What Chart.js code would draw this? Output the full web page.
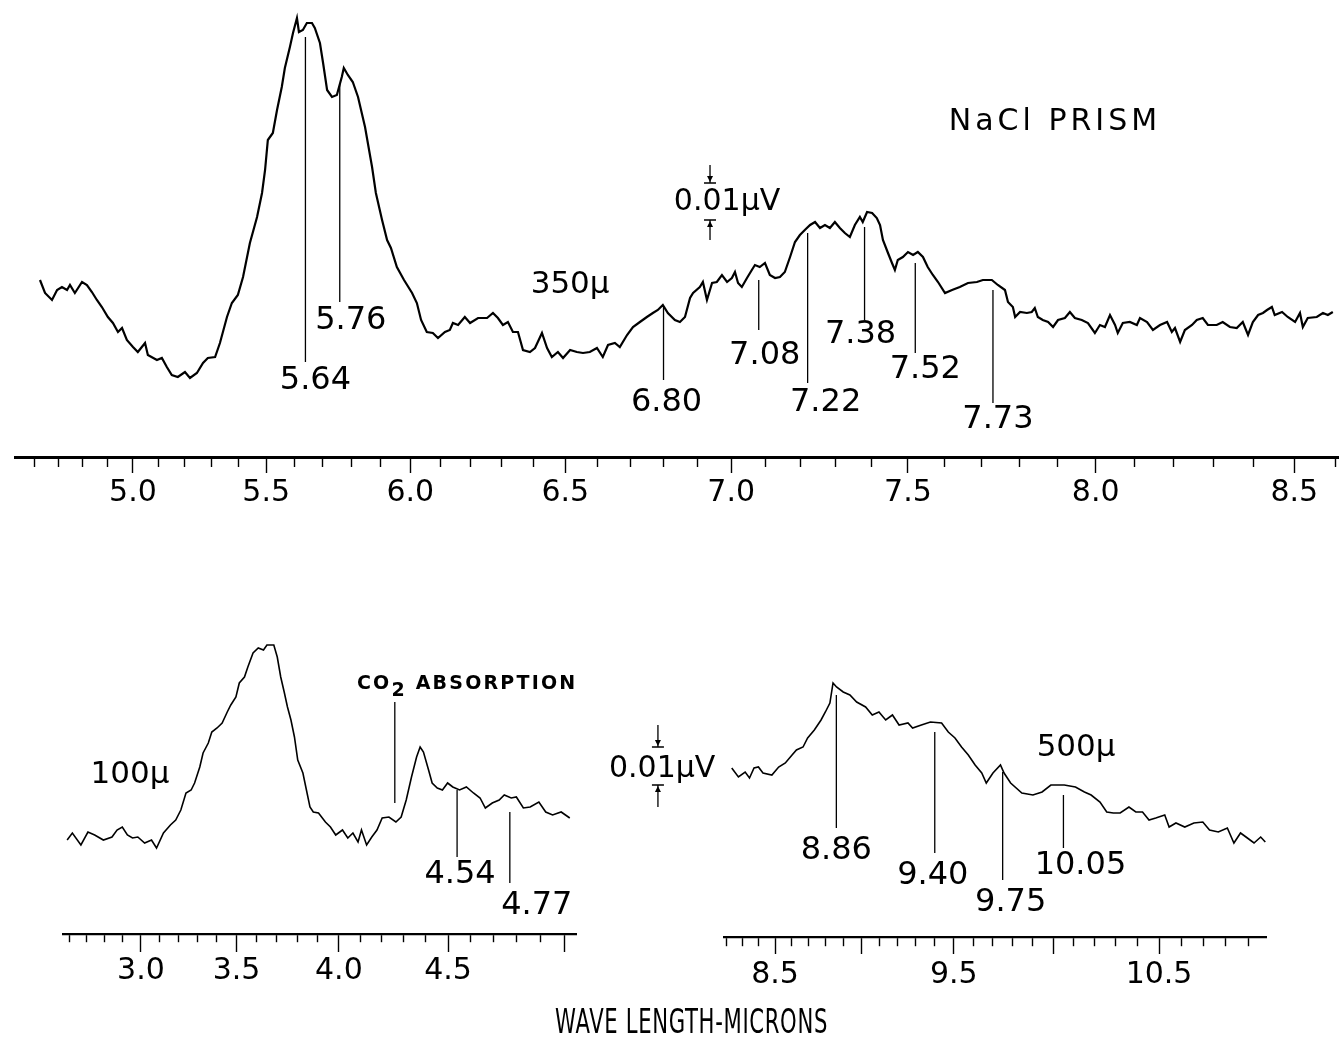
<!DOCTYPE html>
<html>
<head>
<meta charset="utf-8">
<script src="https://cdn.jsdelivr.net/npm/chart.js@4.4.0/dist/chart.umd.js"></script>
<style>
  html, body { margin: 0; padding: 0; background: #fff; }
  body { width: 1339px; height: 1057px; position: relative; overflow: hidden; font-family: 'DejaVu Sans', sans-serif; }
  canvas { position: absolute; }
  #top { left: 0; top: 0; }
  #left { left: 0; top: 560px; }
  #right { left: 600px; top: 560px; }
  #xtitle { position: absolute; top: 1003px; left: 555px; white-space: nowrap; font-size: 33px; line-height: 38px; letter-spacing: 1px; color: #000; transform-origin: 0 0; }
</style>
</head>
<body>
<canvas id="top" width="1339" height="530"></canvas>
<canvas id="left" width="620" height="450"></canvas>
<canvas id="right" width="739" height="450"></canvas>
<div id="xtitle">WAVE LENGTH-MICRONS</div>
<script>
// ---- NaCl prism, 350 micron slit (wavelength in microns, deflection in chart units)
const topWave = [4.624,4.645,4.674,4.695,4.715,4.736,4.748,4.768,4.797,4.817,
  4.837,4.857,4.877,4.901,4.921,4.941,4.957,4.976,5.000,5.019,
  5.047,5.058,5.093,5.112,5.131,5.150,5.173,5.200,5.219,5.245,
  5.268,5.286,5.313,5.331,5.357,5.375,5.397,5.416,5.441,5.467,
  5.485,5.496,5.506,5.524,5.539,5.556,5.567,5.585,5.596,5.610,
  5.617,5.631,5.645,5.663,5.673,5.691,5.702,5.716,5.733,5.750,
  5.767,5.774,5.788,5.805,5.823,5.847,5.871,5.884,5.905,5.922,
  5.935,5.955,5.979,6.006,6.022,6.036,6.055,6.075,6.092,6.115,
  6.131,6.141,6.158,6.180,6.197,6.223,6.252,6.271,6.287,6.303,
  6.319,6.335,6.351,6.367,6.389,6.405,6.427,6.443,6.458,6.477,
  6.493,6.515,6.536,6.555,6.576,6.598,6.616,6.632,6.653,6.668,
  6.690,6.708,6.729,6.750,6.768,6.783,6.798,6.813,6.834,6.849,
  6.864,6.879,6.888,6.908,6.917,6.929,6.944,6.958,6.973,6.988,
  7.002,7.011,7.020,7.031,7.046,7.060,7.069,7.083,7.098,7.112,
  7.127,7.141,7.155,7.170,7.184,7.198,7.212,7.227,7.241,7.255,
  7.269,7.283,7.297,7.311,7.325,7.339,7.353,7.367,7.375,7.387,
  7.401,7.414,7.423,7.431,7.445,7.456,7.464,7.472,7.486,7.500,
  7.514,7.527,7.541,7.554,7.568,7.582,7.601,7.620,7.641,7.663,
  7.687,7.703,7.727,7.743,7.762,7.770,7.783,7.789,7.802,7.820,
  7.833,7.841,7.849,7.862,7.876,7.889,7.902,7.920,7.933,7.946,
  7.964,7.980,7.998,8.011,8.024,8.037,8.050,8.057,8.070,8.088,
  8.106,8.114,8.132,8.147,8.165,8.183,8.195,8.203,8.216,8.228,
  8.246,8.258,8.273,8.286,8.308,8.323,8.341,8.358,8.373,8.386,
  8.398,8.411,8.423,8.433,8.445,8.452,8.470,8.484,8.502,8.514,
  8.521,8.533,8.555,8.570,8.582,8.594];
const topSignal = [17.7,16.4,15.7,16.7,17.0,16.7,17.2,16.4,17.5,17.2,
  16.5,15.7,15.0,14.0,13.4,12.5,12.9,11.7,11.0,10.5,
  11.4,10.2,9.7,9.9,9.0,8.2,8.0,8.5,7.9,8.4,
  9.4,9.9,10.0,11.4,14.0,15.4,16.2,18.0,21.4,24.0,
  26.4,28.7,31.7,32.4,34.7,37.0,38.9,41.0,42.4,43.9,
  42.5,42.7,43.4,43.4,42.9,41.4,39.4,36.7,36.0,36.2,
  38.0,38.9,38.2,37.5,36.0,33.0,29.0,26.4,23.7,21.7,
  20.9,19.0,17.7,16.4,15.4,13.7,12.5,12.4,11.9,12.5,
  12.7,13.4,13.2,14.0,13.4,13.9,13.9,14.4,13.9,13.2,
  13.5,12.5,12.5,10.7,10.5,10.9,12.4,10.9,10.0,10.5,
  9.9,10.7,10.5,10.4,10.5,10.9,10.0,11.2,11.4,11.0,
  12.2,13.0,13.5,14.0,14.4,14.7,15.2,14.4,13.7,13.5,
  14.0,15.9,16.4,17.0,17.5,15.7,17.4,17.5,18.2,17.5,
  17.9,18.5,17.4,17.0,17.9,18.7,19.2,19.0,19.4,18.2,
  17.9,18.0,18.5,20.0,21.5,22.2,22.7,23.2,23.5,22.9,
  23.2,22.9,23.5,22.9,22.4,22.0,23.2,24.0,23.5,24.5,
  24.4,23.9,23.2,21.7,20.4,19.4,18.7,19.7,20.0,20.5,
  20.2,20.5,20.0,19.0,18.2,17.5,16.4,16.7,17.0,17.4,
  17.5,17.7,17.7,17.2,16.7,15.5,15.0,14.0,14.5,14.4,
  14.5,14.9,14.0,13.7,13.5,13.0,13.7,13.9,14.5,13.9,
  13.7,13.4,12.4,13.2,13.0,14.2,13.2,12.4,13.4,13.5,
  13.2,13.9,13.5,12.7,13.2,13.5,12.5,12.9,11.5,12.7,
  13.2,13.7,13.9,13.2,13.2,13.5,13.0,12.9,13.5,12.2,
  13.5,14.2,14.4,14.7,15.0,14.2,14.5,14.0,13.5,14.4,
  13.0,13.9,14.0,14.4,14.2,14.5];
const topTicks = ['5.0', '5.5', '6.0', '6.5', '7.0', '7.5', '8.0', '8.5'];
const topPeaks = [5.64, 5.76, 6.80, 7.08, 7.22, 7.38, 7.52, 7.73];

// ---- 100 micron slit
const leftWave = [2.587,2.617,2.666,2.706,2.744,2.793,2.841,2.869,2.898,2.926,
  2.954,2.983,3.020,3.057,3.084,3.121,3.158,3.186,3.213,3.240,
  3.267,3.285,3.312,3.329,3.356,3.374,3.401,3.427,3.453,3.471,
  3.497,3.514,3.540,3.557,3.583,3.609,3.635,3.652,3.686,3.703,
  3.720,3.737,3.753,3.770,3.787,3.803,3.828,3.845,3.862,3.878,
  3.903,3.936,3.960,3.985,4.017,4.042,4.066,4.090,4.106,4.130,
  4.154,4.178,4.202,4.233,4.265,4.289,4.312,4.336,4.359,4.375,
  4.390,4.413,4.429,4.452,4.475,4.498,4.521,4.551,4.581,4.612,
  4.641,4.664,4.694,4.724,4.746,4.776,4.798,4.828,4.857,4.894,
  4.923,4.952,4.988,5.024];
const leftSignal = [9.4,10.1,8.9,10.2,9.9,9.4,9.7,10.4,10.7,9.9,
  9.6,9.7,9.1,9.4,8.6,10.1,10.9,11.4,12.4,14.1,
  14.4,15.1,16.7,18.1,19.1,20.2,20.6,21.1,22.2,22.9,
  23.7,25.1,25.7,26.7,28.1,28.6,28.4,28.9,28.9,27.7,
  25.7,24.2,22.7,21.4,19.7,17.4,16.1,14.4,12.7,12.2,
  12.1,11.2,10.7,9.9,10.4,9.6,10.1,9.2,10.4,8.9,
  9.7,10.4,11.6,11.7,11.2,11.7,13.4,15.7,17.7,18.7,
  18.2,16.4,15.1,14.6,14.4,15.1,14.7,14.4,14.7,14.1,
  13.6,12.6,13.1,13.4,13.9,13.6,13.7,12.6,12.7,13.2,
  12.2,11.9,12.2,11.6];
const leftTicks = ['3.0', '3.5', '4.0', '4.5'];
const leftPeaks = [4.54, 4.77];
const co2Band = 4.26;

// ---- 500 micron slit
const rightWave = [8.233,8.275,8.317,8.344,8.372,8.399,8.427,8.481,8.522,8.562,
  8.602,8.628,8.667,8.694,8.733,8.772,8.797,8.823,8.841,8.861,
  8.899,8.937,8.975,9.025,9.062,9.099,9.136,9.173,9.209,9.257,
  9.282,9.329,9.377,9.436,9.471,9.506,9.540,9.575,9.610,9.644,
  9.667,9.701,9.739,9.757,9.790,9.846,9.901,9.946,9.989,10.054,
  10.108,10.151,10.183,10.225,10.257,10.288,10.320,10.361,10.393,10.424,
  10.454,10.485,10.526,10.546,10.577,10.617,10.658,10.698,10.728,10.767,
  10.807,10.836,10.865,10.895,10.924,10.953,10.973];
const rightSignal = [16.9,16.0,16.5,15.9,16.9,17.0,16.4,16.2,17.0,17.4,
  18.2,18.7,19.0,19.9,20.7,21.7,22.5,23.4,25.4,25.0,
  24.5,24.2,23.5,23.0,22.2,22.5,21.7,22.2,21.2,21.4,
  20.9,21.2,21.5,21.4,20.5,19.9,19.0,18.2,17.2,16.4,
  15.4,16.4,17.2,16.4,15.4,14.4,14.2,14.5,15.2,15.2,
  15.0,14.5,14.2,13.5,12.5,12.4,12.4,13.0,12.5,12.5,
  11.7,11.9,12.2,11.0,11.4,11.0,11.4,11.5,10.7,10.5,
  10.9,9.4,10.4,9.9,9.4,10.0,9.5];
const rightTicks = ['8.5', '9.5', '10.5'];
const rightPeaks = [8.86, 9.40, 9.75, 10.05];

// prism spectra are not linear in wavelength: the axis is bent a little
class PrismScale extends Chart.LinearScale {
  static id = 'prism';
  static defaults = {};
  warp(v) {
    const u = v - this.options.pivot;
    return u + this.options.bend * u * u;
  }
  getPixelForValue(value) {
    if (value === null || isNaN(value)) return NaN;
    const a = this.warp(this.min), b = this.warp(this.max);
    return this.getPixelForDecimal((this.warp(value) - a) / (b - a));
  }
  getValueForPixel(pixel) {
    const a = this.warp(this.min), b = this.warp(this.max);
    const w = a + this.getDecimalForPixel(pixel) * (b - a);
    const k = this.options.bend;
    return (k ? (-1 + Math.sqrt(1 + 4 * k * w)) / (2 * k) : w) + this.options.pivot;
  }
}
Chart.register(PrismScale);

const FONT = "'DejaVu Sans', sans-serif";
const isHalf = v => Math.abs(v * 2 - Math.round(v * 2)) < 1e-6;

function prismAxis(o) {
  return {
    type: 'prism', min: o.min, max: o.max, pivot: o.pivot, bend: o.bend,
    border: { display: true, color: '#000', width: o.border },
    grid: {
      drawOnChartArea: false, drawTicks: true, tickLength: o.major,
      tickColor: '#000', tickWidth: 1.4,
      tickBorderDash: c => (c.tick && isHalf(c.tick.value)) ? [] : [o.minor, 200]
    },
    ticks: {
      stepSize: 0.1, autoSkip: false, maxRotation: 0, minRotation: 0, includeBounds: false,
      padding: o.pad, color: '#000', font: { family: FONT, size: 30 },
      callback: v => { const s = Number(v).toFixed(1); return o.labels.includes(s) ? s : ''; }
    },
    afterFit: s => { s.height = o.height; }
  };
}

function notesPlugin(cfg) {
  return {
    id: 'notes',
    afterDraw(chart) {
      const ctx = chart.ctx, xs = chart.scales.x, ys = chart.scales.y;
      const px = v => xs.getPixelForValue(v), py = v => ys.getPixelForValue(v);
      ctx.save();
      ctx.strokeStyle = '#000';
      ctx.fillStyle = '#000';
      ctx.textAlign = 'center';
      ctx.textBaseline = 'middle';
      ctx.lineWidth = 1.3;
      (cfg.lines || []).forEach(l => {
        ctx.beginPath();
        ctx.moveTo(px(l.at), py(l.top));
        ctx.lineTo(px(l.at), py(l.bottom));
        ctx.stroke();
      });
      cfg.peaks.forEach((w, i) => {
        const [top, bottom, labelAt, dx] = cfg.layout[i];
        const x = px(w);
        ctx.beginPath();
        ctx.moveTo(x, py(top));
        ctx.lineTo(x, py(bottom));
        ctx.stroke();
        ctx.font = `32px ${FONT}`;
        ctx.fillText(w.toFixed(2), x + dx, py(labelAt));
      });
      (cfg.texts || []).forEach(t => {
        ctx.font = `${t.weight || 'normal'} ${t.size}px ${FONT}`;
        ctx.letterSpacing = (t.spacing || 0) + 'px';
        if (t.parts) {
          ctx.textAlign = 'left';
          let x = px(t.at);
          t.parts.forEach(p => {
            ctx.fillText(p.s, x, py(t.v) + (p.dy || 0));
            x += ctx.measureText(p.s).width;
          });
          ctx.textAlign = 'center';
        } else {
          ctx.fillText(t.text, px(t.at), py(t.v));
        }
        ctx.letterSpacing = '0px';
      });
      if (cfg.bar) {
        const b = cfg.bar, x = px(b.at);
        const y1 = py(b.tip1), y2 = py(b.bar1), y3 = py(b.bar2), y4 = py(b.tip2);
        ctx.lineWidth = 1.3;
        ctx.beginPath();
        ctx.moveTo(x, y1); ctx.lineTo(x, y2);
        ctx.moveTo(x - 6, y2); ctx.lineTo(x + 6, y2);
        ctx.moveTo(x - 6, y3); ctx.lineTo(x + 6, y3);
        ctx.moveTo(x, y3); ctx.lineTo(x, y4);
        ctx.stroke();
        ctx.beginPath();
        ctx.moveTo(x - 3, y2 - 7); ctx.lineTo(x + 3, y2 - 7); ctx.lineTo(x, y2 - 1);
        ctx.moveTo(x - 3, y3 + 7); ctx.lineTo(x + 3, y3 + 7); ctx.lineTo(x, y3 + 1);
        ctx.fill();
      }
      ctx.restore();
    }
  };
}

function spectrum(id, wave, signal, lineW, pad, yMax, xAxis, notes) {
  return new Chart(document.getElementById(id), {
    type: 'line',
    data: {
      datasets: [{
        data: wave.map((w, i) => ({ x: w, y: signal[i] })),
        borderColor: '#000', borderWidth: lineW, pointRadius: 0,
        tension: 0, fill: false, clip: false
      }]
    },
    options: {
      responsive: false, animation: false, events: [],
      layout: { padding: pad },
      plugins: { legend: { display: false }, tooltip: { enabled: false } },
      scales: {
        x: prismAxis(xAxis),
        y: { type: 'linear', display: false, min: 0, max: yMax }
      }
    },
    plugins: [notesPlugin(notes)]
  });
}

spectrum('top', topWave, topSignal, 2.2,
  { left: 15, right: 0, top: 7, bottom: 0 }, 45,
  { min: 4.5185, max: 8.609, pivot: 5.0, bend: 0.0853, labels: topTicks,
    major: 16, minor: 8, pad: 2, border: 3, height: 73 },
  {
    peaks: topPeaks,
    // line top, line bottom, label centre, label shift (px)
    layout: [[42.0, 9.5, 7.6, 10], [37.4, 15.5, 13.6, 11], [15.0, 7.7, 5.4, 3], [17.7, 12.7, 10.1, 6],
             [22.4, 7.4, 5.4, 18], [23.0, 13.7, 12.2, -4], [19.4, 10.4, 8.7, 10], [16.7, 5.4, 3.7, 5]],
    texts: [
      { text: 'NaCl PRISM', at: 7.894, v: 33.5, size: 30, spacing: 4 },
      { text: '350\u03bc', at: 6.515, v: 17.2, size: 31 },
      { text: '0.01\u03bcV', at: 6.988, v: 25.5, size: 30 }
    ],
    bar: { at: 6.938, tip1: 29.2, bar1: 27.4, bar2: 23.7, tip2: 21.7 }
  });

spectrum('left', leftWave, leftSignal, 1.6,
  { left: 63, right: 44, top: 44, bottom: 0 }, 33,
  { min: 2.563, max: 5.05, pivot: 3.0, bend: 0.0738, labels: leftTicks,
    major: 18, minor: 7, pad: 1, border: 2.2, height: 76 },
  {
    peaks: leftPeaks,
    layout: [[14.4, 7.7, 5.9, 3], [12.2, 5.1, 2.8, 27]],
    lines: [{ at: co2Band, top: 23.2, bottom: 13.1 }],
    texts: [
      { text: '100\u03bc', at: 2.940, v: 15.9, size: 31 },
      { at: 4.085, v: 25.0, size: 19, weight: 'bold', spacing: 2.2,
        parts: [{ s: 'CO' }, { s: '2', dy: 7 }, { s: ' ABSORPTION' }] }
    ]
  });

spectrum('right', rightWave, rightSignal, 1.6,
  { left: 124, right: 73, top: 47, bottom: 0 }, 33,
  { min: 8.184, max: 10.976, pivot: 8.5, bend: 0.0797, labels: rightTicks,
    major: 17, minor: 8, pad: 3, border: 2.2, height: 73 },
  {
    peaks: rightPeaks,
    layout: [[24.2, 10.9, 8.6, 0], [20.5, 8.4, 6.1, -2], [16.5, 5.7, 3.4, 8], [14.2, 8.9, 7.1, 17]],
    texts: [
      { text: '500\u03bc', at: 10.111, v: 18.9, size: 31 },
      { text: '0.01\u03bcV', at: 7.777, v: 16.8, size: 30 }
    ],
    bar: { at: 7.748, tip1: 21.2, bar1: 19.0, bar2: 15.2, tip2: 13.0 }
  });

// axis title spans both lower panels
const title = document.getElementById('xtitle');
title.style.transform = `scaleX(${273 / title.getBoundingClientRect().width})`;
</script>
</body>
</html>
